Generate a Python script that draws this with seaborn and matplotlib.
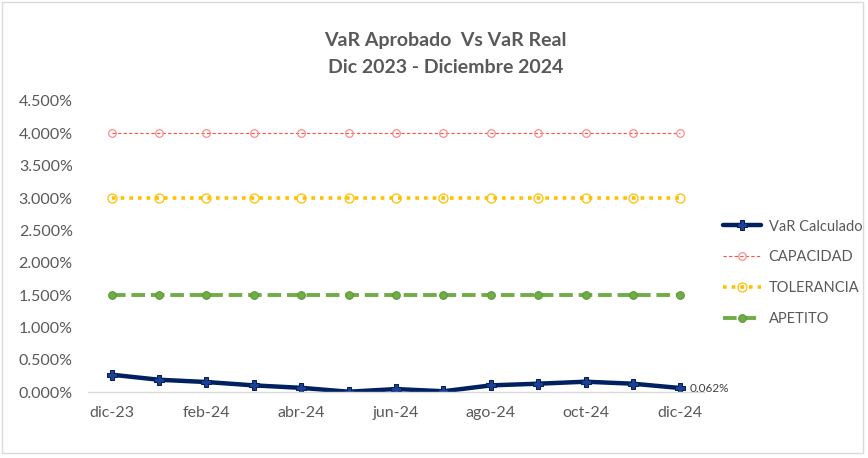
import matplotlib
matplotlib.use("Agg")
import matplotlib.pyplot as plt
import seaborn as sns
import pandas as pd
from matplotlib.ticker import FuncFormatter
from matplotlib.patches import Rectangle

months = ["dic-23", "ene-24", "feb-24", "mar-24", "abr-24", "may-24", "jun-24",
          "jul-24", "ago-24", "sep-24", "oct-24", "nov-24", "dic-24"]
var_calculado = [0.268, 0.19, 0.155, 0.103, 0.065, 0.005, 0.046, 0.012, 0.103, 0.129, 0.16, 0.129, 0.062]
capacidad = [4.0] * 13
tolerancia = [3.0] * 13
apetito = [1.5] * 13
ytick_vals = [0, 0.5, 1.0, 1.5, 2.0, 2.5, 3.0, 3.5, 4.0, 4.5]

sns.set_theme(style="white")
plt.rcParams['font.family'] = ['Lato', 'DejaVu Sans']

df = pd.DataFrame({"idx": range(len(months)), "VaR": var_calculado,
                   "CAP": capacidad, "TOL": tolerancia, "APE": apetito})

fig = plt.figure(figsize=(8.68, 4.58), dpi=100)
ax = fig.add_axes([0.1014, 0.144, 0.7097, 0.6355])

sns.lineplot(data=df, x="idx", y="CAP", ax=ax, color="#FF5050", lw=0.8,
             linestyle=(0, (3, 2)), marker="o", markersize=5.5,
             markerfacecolor="none", markeredgecolor="#FF8C8C", markeredgewidth=0.9,
             label="CAPACIDAD")
sns.lineplot(data=df, x="idx", y="TOL", ax=ax, color="#FFC000", lw=2.6,
             linestyle=(0, (1, 1.4)), marker="o", markersize=6.5,
             markerfacecolor="none", markeredgecolor="#FFC000", markeredgewidth=0.9,
             label="TOLERANCIA")
sns.lineplot(data=df, x="idx", y="APE", ax=ax, color="#70AD47", lw=2.8,
             linestyle=(0, (3.5, 1.5)), marker="o", markersize=5.5,
             markerfacecolor="#70AD47", markeredgecolor="#5C9A38", markeredgewidth=0.8,
             label="APETITO")
sns.lineplot(data=df, x="idx", y="VaR", ax=ax, color="#002060", lw=3.2,
             marker="P", markersize=6.5, markerfacecolor="#1F3F8F",
             markeredgecolor="#002060", label="VaR Calculado")

ax.set_xlim(-0.5, 12.5)
ax.set_ylim(0, 4.5)
ax.set_yticks(ytick_vals)
ax.yaxis.set_major_formatter(FuncFormatter(lambda v, p: f"{v:.3f}%"))
ax.set_xticks(range(0, 13, 2))
ax.set_xticklabels([months[i] for i in range(0, 13, 2)])
ax.tick_params(axis="both", labelsize=11.5, labelcolor="#595959", length=0)
ax.tick_params(axis="y", pad=11)
ax.tick_params(axis="x", pad=10)
ax.set_xlabel("")
ax.set_ylabel("")
for s in ["top", "right", "left"]:
    ax.spines[s].set_visible(False)
ax.spines["bottom"].set_color("#D9D9D9")
ax.spines["bottom"].set_linewidth(1)

ax.annotate(f"{var_calculado[-1]:.3f}%", xy=(12, var_calculado[-1]), xytext=(7, 0),
            textcoords="offset points", fontsize=8.5, color="#404040", va="center")

handles, labels = ax.get_legend_handles_labels()
order = [labels.index(l) for l in ["VaR Calculado", "CAPACIDAD", "TOLERANCIA", "APETITO"]]
leg = ax.legend([handles[i] for i in order], [labels[i] for i in order],
                loc="center left", bbox_to_anchor=(1.01, 0.41), frameon=False,
                fontsize=10.5, labelspacing=1.15, handlelength=2.6, handletextpad=0.5)
for t in leg.get_texts():
    t.set_color("#595959")

fig.suptitle("VaR Aprobado  Vs VaR Real\nDic 2023 - Diciembre 2024", x=0.513, y=0.93,
             fontsize=14, fontweight="bold", color="#595959", linespacing=1.7)

fig.patches.append(Rectangle((0.002, 0.012), 0.992, 0.984, transform=fig.transFigure,
                             fill=False, edgecolor="#D9D9D9", lw=1))

fig.savefig("out.png", dpi=100)
